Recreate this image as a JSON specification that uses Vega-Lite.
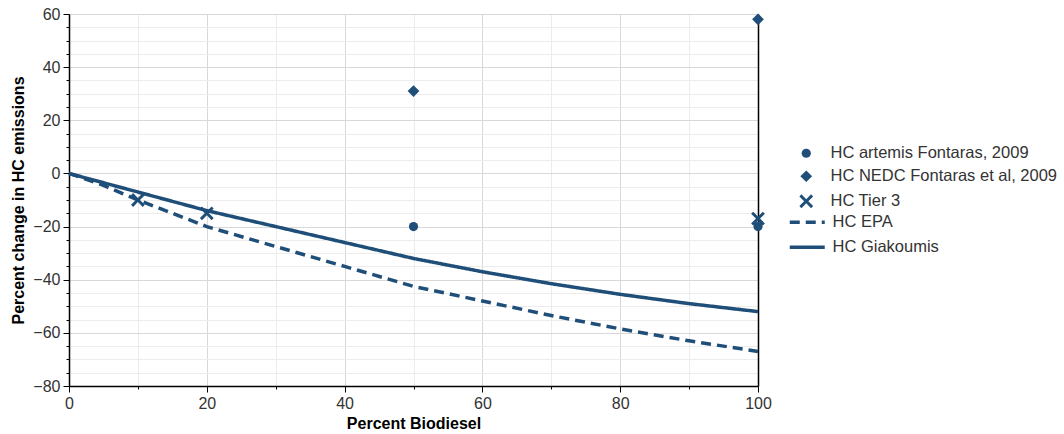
{
  "$schema": "https://vega.github.io/schema/vega-lite/v6.json",
  "width": 689,
  "height": 372,
  "autosize": {"type": "none"},
  "padding": {"left": 69, "top": 14, "right": 306, "bottom": 48},
  "config": {
    "font": "Liberation Sans",
    "view": {"stroke": "#999999"}
  },
  "resolve": {"axis": {"y": "independent"}},
  "datasets": {
    "lines": [
      {"series": "HC EPA", "b": 0, "v": 0},
      {"series": "HC EPA", "b": 5, "v": -4.5},
      {"series": "HC EPA", "b": 10, "v": -10},
      {"series": "HC EPA", "b": 20, "v": -20},
      {"series": "HC EPA", "b": 30, "v": -27.5},
      {"series": "HC EPA", "b": 40, "v": -35},
      {"series": "HC EPA", "b": 50, "v": -42.5},
      {"series": "HC EPA", "b": 60, "v": -48},
      {"series": "HC EPA", "b": 70, "v": -53.5},
      {"series": "HC EPA", "b": 80, "v": -58.5},
      {"series": "HC EPA", "b": 90, "v": -63},
      {"series": "HC EPA", "b": 100, "v": -67},
      {"series": "HC Giakoumis", "b": 0, "v": 0},
      {"series": "HC Giakoumis", "b": 10, "v": -7},
      {"series": "HC Giakoumis", "b": 20, "v": -14},
      {"series": "HC Giakoumis", "b": 30, "v": -20},
      {"series": "HC Giakoumis", "b": 40, "v": -26},
      {"series": "HC Giakoumis", "b": 50, "v": -32},
      {"series": "HC Giakoumis", "b": 60, "v": -37},
      {"series": "HC Giakoumis", "b": 70, "v": -41.5},
      {"series": "HC Giakoumis", "b": 80, "v": -45.5},
      {"series": "HC Giakoumis", "b": 90, "v": -49},
      {"series": "HC Giakoumis", "b": 100, "v": -52}
    ],
    "points": [
      {"series": "HC artemis Fontaras, 2009", "b": 50, "v": -20},
      {"series": "HC artemis Fontaras, 2009", "b": 100, "v": -20},
      {"series": "HC NEDC Fontaras et al, 2009", "b": 50, "v": 31},
      {"series": "HC NEDC Fontaras et al, 2009", "b": 100, "v": 58},
      {"series": "HC Tier 3", "b": 10, "v": -10},
      {"series": "HC Tier 3", "b": 20, "v": -15},
      {"series": "HC Tier 3", "b": 100, "v": -17}
    ]
  },
  "layer": [
    {
      "data": {"name": "lines"},
      "mark": {"type": "line", "strokeWidth": 3.5, "color": "#1f4e79", "clip": false},
      "encoding": {
        "x": {
          "field": "b", "type": "quantitative",
          "scale": {"domain": [0, 100], "nice": false},
          "axis": {
            "title": "Percent Biodiesel",
            "titleFontSize": 16, "titleFontWeight": "bold", "titleColor": "#000000", "titlePadding": 4,
            "values": [0,5,10,15,20,25,30,35,40,45,50,55,60,65,70,75,80,85,90,95,100],
            "labelExpr": "datum.value % 20 === 0 ? datum.label : ''",
            "labelFontSize": 16, "labelColor": "#333333", "labelPadding": 3, "labelFlush": false,
            "domainColor": "#000000", "domainWidth": 1.5,
            "tickColor": "#000000",
            "tickSize": {"condition": {"test": "datum.value % 20 === 0", "value": 6}, "value": 3},
            "gridColor": {"condition": {"test": "datum.value % 20 === 0", "value": "#d8d8d8"}, "value": "#ececec"}
          }
        },
        "y": {
          "field": "v", "type": "quantitative",
          "scale": {"domain": [-80, 60], "nice": false},
          "axis": {
            "title": "Percent change in HC emissions",
            "titleFontSize": 16, "titleFontWeight": "bold", "titleColor": "#000000", "titlePadding": 6,
            "values": [-80,-75,-70,-65,-60,-55,-50,-45,-40,-35,-30,-25,-20,-15,-10,-5,0,5,10,15,20,25,30,35,40,45,50,55,60],
            "labelExpr": "datum.value % 20 === 0 ? datum.label : ''",
            "labelFontSize": 16, "labelColor": "#333333", "labelPadding": 3, "labelFlush": false,
            "domainColor": "#000000", "domainWidth": 1.5,
            "tickColor": "#000000",
            "tickSize": {"condition": {"test": "datum.value % 20 === 0", "value": 6}, "value": 3},
            "gridColor": {"condition": {"test": "datum.value % 20 === 0", "value": "#d8d8d8"}, "value": "#ececec"}
          }
        },
        "strokeDash": {
          "field": "series", "type": "nominal",
          "scale": {"domain": ["HC EPA", "HC Giakoumis"], "range": [[10, 6], [1, 0]]},
          "legend": {
            "title": null, "orient": "none", "legendX": 730, "legendY": 200,
            "padding": 0, "symbolType": "M-3.5,0L3.5,0", "symbolSize": 100, "symbolStrokeWidth": 3.5,
            "symbolStrokeColor": "#1f4e79", "symbolFillColor": "transparent",
            "labelFontSize": 16.5, "labelColor": "#333333", "labelOffset": 17, "rowPadding": 8, "labelLimit": 300
          }
        }
      }
    },
    {
      "data": {"name": "points"},
      "mark": {"type": "point", "filled": true, "opacity": 1, "color": "#1f4e79", "clip": false},
      "encoding": {
        "x": {"field": "b", "type": "quantitative"},
        "y": {
          "field": "v", "type": "quantitative",
          "axis": {"orient": "right", "title": null, "labels": false, "ticks": false, "grid": false, "domainColor": "#000000", "domainWidth": 1.5}
        },
        "shape": {
          "field": "series", "type": "nominal",
          "scale": {
            "domain": ["HC artemis Fontaras, 2009", "HC NEDC Fontaras et al, 2009", "HC Tier 3"],
            "range": ["circle", "diamond", "M-1,-0.7L-0.7,-1L0,-0.3L0.7,-1L1,-0.7L0.3,0L1,0.7L0.7,1L0,0.3L-0.7,1L-1,0.7L-0.3,0Z"]
          },
          "legend": {
            "title": null, "orient": "none", "legendX": 729, "legendY": 131,
            "padding": 0, "symbolFillColor": "#1f4e79", "symbolStrokeColor": "#1f4e79",
            "labelFontSize": 16.5, "labelColor": "#333333", "labelOffset": 16, "rowPadding": 5, "labelLimit": 300
          }
        },
        "size": {
          "field": "series", "type": "nominal",
          "scale": {
            "domain": ["HC artemis Fontaras, 2009", "HC NEDC Fontaras et al, 2009", "HC Tier 3"],
            "range": [85, 190, 150]
          }
        }
      }
    }
  ]
}
